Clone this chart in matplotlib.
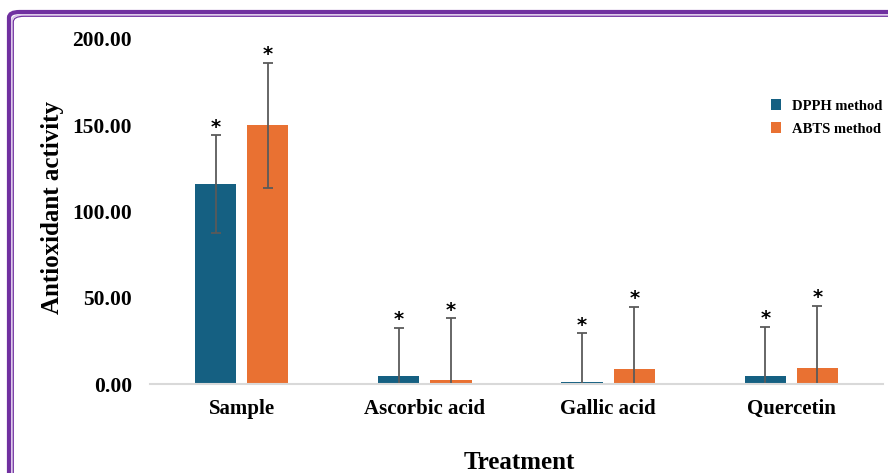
import matplotlib
matplotlib.use("Agg")
import matplotlib.pyplot as plt
import numpy as np
from matplotlib.patches import FancyBboxPatch

categories = ["Sample", "Ascorbic acid", "Gallic acid", "Quercetin"]
dpph = [116.0, 4.6, 0.9, 4.6]
dpph_err = [28.2, 28.0, 28.4, 28.4]
abts = [150.0, 2.3, 8.7, 9.3]
abts_err = [36.2, 35.8, 35.9, 36.1]
yticks = [0, 50, 100, 150, 200]

C_DPPH = "#156082"
C_ABTS = "#E97132"
PURPLE = "#7030A0"
SERIF = "Liberation Serif"

W, H = 888, 473
fig = plt.figure(figsize=(W / 100, H / 100), dpi=100)

# decorative border
def px(x, y):
    return x / W, 1 - y / H

for (inset, lw, col) in [(9, 4.2, PURPLE), (12.0, 1.6, "#D9C3E8"), (13.3, 1.2, PURPLE)]:
    x0, y1 = px(inset, inset + 3)
    patch = FancyBboxPatch((x0, -0.2), 1.3, y1 + 0.2,
                           boxstyle="round,pad=0,rounding_size=0.012",
                           transform=fig.transFigure, fill=False,
                           edgecolor=col, linewidth=lw * 0.72, clip_on=False)
    fig.patches.append(patch)

ax = fig.add_axes([150 / W, 1 - 384 / H, (883 - 150) / W, (384 - 39) / H])

x = np.arange(len(categories))
bw = 0.225
off = 0.1425
ekw = dict(ecolor="#5a5a5a", elinewidth=1.3, capsize=3.3, capthick=1.3)
ax.bar(x - off, dpph, bw, color=C_DPPH, label="DPPH method",
       yerr=dpph_err, error_kw=ekw, zorder=2)
ax.bar(x + off, abts, bw, color=C_ABTS, label="ABTS method",
       yerr=abts_err, error_kw=ekw, zorder=2)

for xs, vals, errs in [(x - off, dpph, dpph_err), (x + off, abts, abts_err)]:
    for xi, v, e in zip(xs, vals, errs):
        ax.annotate("*", (xi, v + e), xytext=(0, -1), textcoords="offset points",
                    ha="center", va="bottom", fontsize=14, color="black",
                    family="DejaVu Sans", fontweight="bold")

ax.set_xlim(-0.5, 3.5)
ax.set_ylim(0, 200)
ax.set_yticks(yticks)
ax.set_yticklabels([f"{t:.2f}" for t in yticks], family=SERIF,
                   fontweight="bold", fontsize=15.5)
ax.set_xticks(x)
ax.set_xticklabels(categories, family=SERIF, fontweight="bold", fontsize=15)
ax.tick_params(axis="y", length=0, pad=13)
ax.tick_params(axis="x", length=0, pad=11)
for s in ["top", "right", "left"]:
    ax.spines[s].set_visible(False)
ax.spines["bottom"].set_color("#d9d9d9")
ax.spines["bottom"].set_linewidth(1.5)
ax.spines["bottom"].set_zorder(3)

fig.text(52 / W, 1 - 208 / H, "Antioxidant activity", rotation=90,
         ha="center", va="center", family=SERIF, fontweight="bold", fontsize=18)
fig.text(519 / W, 1 - 462 / H, "Treatment", ha="center", va="center",
         family=SERIF, fontweight="bold", fontsize=18)

leg = ax.legend(loc="upper left", bbox_to_anchor=(771 / W, 1 - 99 / H),
                bbox_transform=fig.transFigure, frameon=False,
                prop=dict(family=SERIF, weight="bold", size=10.5),
                handlelength=0.7, handleheight=0.8, handletextpad=0.75,
                labelspacing=0.65, borderpad=0, borderaxespad=0)

fig.savefig("out.png", dpi=100)
